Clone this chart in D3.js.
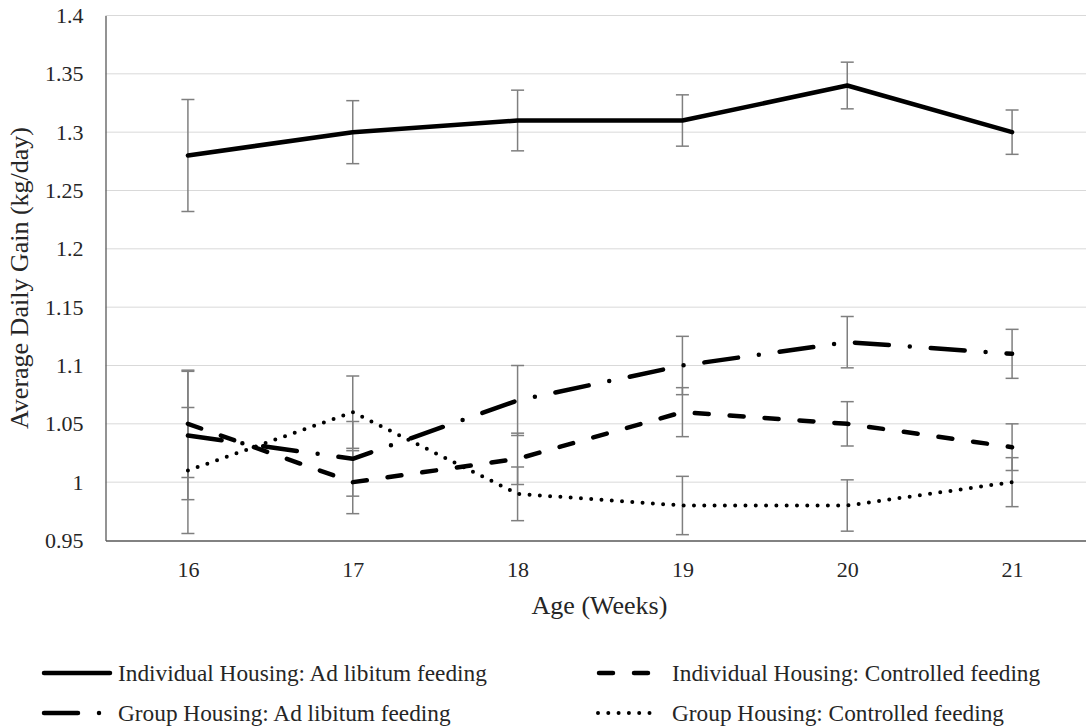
<!DOCTYPE html>
<html>
<head>
<meta charset="utf-8">
<script src="https://cdn.jsdelivr.net/npm/d3@7"></script>
<style>
  html, body { margin: 0; padding: 0; background: #fff; }
  svg { display: block; }
</style>
</head>
<body>
<svg id="chart" width="1086" height="728"></svg>
<script>
// Age in weeks (x categories)
const weeks = [16, 17, 18, 19, 20, 21];

// Average daily gain (kg/day) per group, with error bar half-widths
const indAdLib     = [1.28, 1.30, 1.31, 1.31, 1.34, 1.30];
const indAdLibErr  = [0.048, 0.027, 0.026, 0.022, 0.020, 0.019];
const indCtrl      = [1.05, 1.00, 1.02, 1.06, 1.05, 1.03];
const indCtrlErr   = [0.046, 0.027, 0.022, 0.021, 0.019, 0.020];
const grpAdLib     = [1.04, 1.02, 1.07, 1.10, 1.12, 1.11];
const grpAdLibErr  = [0.055, 0.032, 0.030, 0.025, 0.022, 0.021];
const grpCtrl      = [1.01, 1.06, 0.99, 0.98, 0.98, 1.00];
const grpCtrlErr   = [0.054, 0.031, 0.023, 0.025, 0.022, 0.021];

const yTicks = [0.95, 1, 1.05, 1.1, 1.15, 1.2, 1.25, 1.3, 1.35, 1.4];

const seriesNames = [
  "Individual Housing: Ad libitum feeding",
  "Individual Housing: Controlled feeding",
  "Group Housing: Ad libitum feeding",
  "Group Housing: Controlled feeding"
];

// line styles for each series
const styles = [
  { dash: null,            width: 4.5 },
  { dash: "14 21",         width: 4.5 },
  { dash: "34 21 0 21",    width: 4.5 },
  { dash: "0 10.3",        width: 4 }
];

const series = [
  { name: seriesNames[0], values: indAdLib, err: indAdLibErr, style: styles[0] },
  { name: seriesNames[1], values: indCtrl,  err: indCtrlErr,  style: styles[1] },
  { name: seriesNames[2], values: grpAdLib, err: grpAdLibErr, style: styles[2] },
  { name: seriesNames[3], values: grpCtrl,  err: grpCtrlErr,  style: styles[3] }
];

const FONT = "Liberation Serif";
const TEXT = "#262626";

const svg = d3.select("#chart");
const plot = { left: 105.5, right: 1094.5, top: 15.5, bottom: 540.5 };

const x = d3.scalePoint().domain(weeks).range([plot.left, plot.right]).padding(0.5);
const y = d3.scaleLinear().domain([0.95, 1.4]).range([plot.bottom, plot.top]);

// horizontal gridlines
svg.append("g")
  .selectAll("line")
  .data(yTicks.filter(t => t > 0.95))
  .join("line")
  .attr("x1", plot.left).attr("x2", plot.right)
  .attr("y1", d => y(d)).attr("y2", d => y(d))
  .attr("stroke", "#d9d9d9").attr("stroke-width", 1);

// y axis
const yAxis = svg.append("g")
  .attr("transform", `translate(${plot.left},0)`)
  .call(d3.axisLeft(y).tickValues(yTicks).tickSize(0).tickPadding(22)
        .tickFormat(d => d3.format("")(+d.toFixed(2))));
yAxis.attr("font-family", FONT).attr("font-size", 22);
yAxis.select(".domain").attr("stroke", "#595959").attr("stroke-width", 1.3);
yAxis.selectAll("text").attr("fill", TEXT);

// x axis
const xAxis = svg.append("g")
  .attr("transform", `translate(0,${plot.bottom})`)
  .call(d3.axisBottom(x).tickSize(0).tickPadding(21));
xAxis.attr("font-family", FONT).attr("font-size", 22);
xAxis.select(".domain").attr("stroke", "#595959").attr("stroke-width", 1.5);
xAxis.selectAll("text").attr("fill", TEXT);

// axis titles
svg.append("text")
  .attr("x", (plot.left + plot.right) / 2 - 0.5)
  .attr("y", 614)
  .attr("text-anchor", "middle")
  .attr("font-family", FONT)
  .attr("font-size", 26)
  .attr("fill", TEXT)
  .text("Age (Weeks)");

svg.append("text")
  .attr("transform", `translate(28,${(plot.top + plot.bottom) / 2}) rotate(-90)`)
  .attr("text-anchor", "middle")
  .attr("font-family", FONT)
  .attr("font-size", 26)
  .attr("fill", TEXT)
  .text("Average Daily Gain (kg/day)");

// error bars
const capHalf = 6.5;
series.forEach(s => {
  const g = svg.append("g").attr("stroke", "#7f7f7f").attr("stroke-width", 1.5);
  s.values.forEach((v, i) => {
    const cx = x(weeks[i]);
    const hi = y(v + s.err[i]), lo = y(v - s.err[i]);
    g.append("line").attr("x1", cx).attr("x2", cx).attr("y1", hi).attr("y2", lo);
    g.append("line").attr("x1", cx - capHalf).attr("x2", cx + capHalf).attr("y1", hi).attr("y2", hi);
    g.append("line").attr("x1", cx - capHalf).attr("x2", cx + capHalf).attr("y1", lo).attr("y2", lo);
  });
});

// series lines
const line = d3.line().x((d, i) => x(weeks[i])).y(d => y(d));
series.forEach(s => {
  svg.append("path")
    .attr("d", line(s.values))
    .attr("fill", "none")
    .attr("stroke", "#000")
    .attr("stroke-width", s.style.width)
    .attr("stroke-linecap", "round")
    .attr("stroke-linejoin", "round")
    .attr("stroke-dasharray", s.style.dash);
});

// legend (2 x 2)
const legendItems = [
  { s: series[0], x1: 44, x2: 110, tx: 118, ty: 673 },
  { s: series[1], x1: 599, x2: 651, tx: 672, ty: 673 },
  { s: series[2], x1: 44, x2: 101, tx: 118, ty: 713 },
  { s: series[3], x1: 598, x2: 658, tx: 672, ty: 713 }
];
const legend = svg.append("g");
legendItems.forEach(it => {
  legend.append("line")
    .attr("x1", it.x1).attr("x2", it.x2)
    .attr("y1", it.ty).attr("y2", it.ty)
    .attr("stroke", "#000")
    .attr("stroke-width", it.s.style.width)
    .attr("stroke-linecap", "round")
    .attr("stroke-dasharray", it.s.style.dash);
  legend.append("text")
    .attr("x", it.tx).attr("y", it.ty)
    .attr("dy", "0.35em")
    .attr("font-family", FONT)
    .attr("font-size", 23.3)
    .attr("fill", TEXT)
    .text(it.s.name);
});
</script>
</body>
</html>
